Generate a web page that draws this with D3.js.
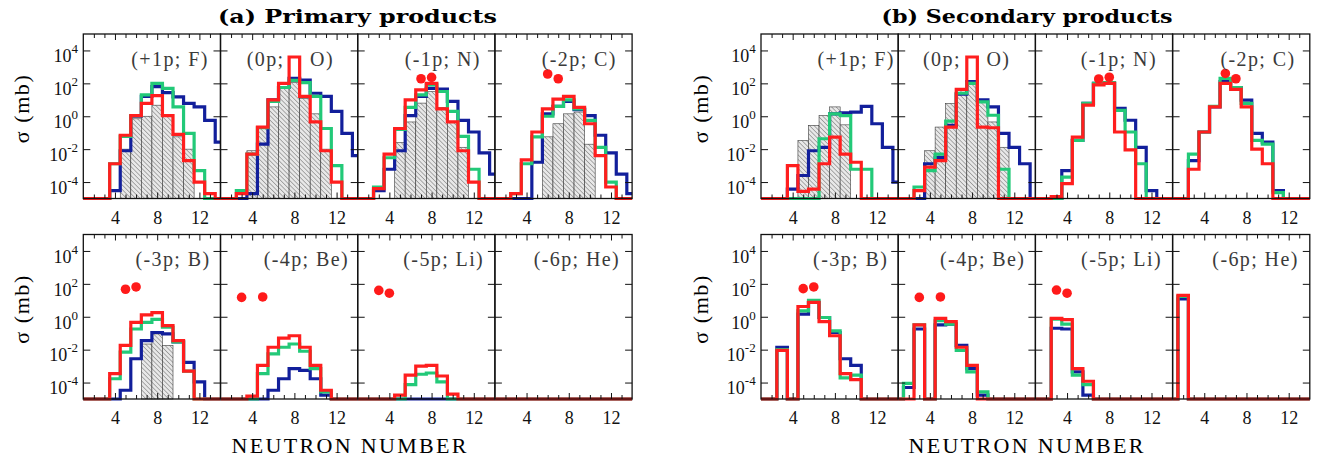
<!DOCTYPE html>
<html>
<head>
<meta charset="utf-8">
<script src="https://cdn.jsdelivr.net/npm/d3@7"></script>
<style>
  body { margin: 0; background: #fff; }
  svg { display: block; }
  text { font-family: "Liberation Serif", "Times New Roman", serif; }
</style>
</head>
<body>
<svg id="chart" width="1323" height="460"></svg>
<script>
// ---- data (cross sections in mb, index 0 <-> N = 1 ... index 13 <-> N = 14; 0 = below axis) ----
const neutronNumbers = [1, 2, 3, 4, 5, 6, 7, 8, 9, 10, 11, 12, 13, 14];
const panelLabels = ["(+1p; F)", "(0p;    O)", "(-1p; N)", "(-2p; C)",
                     "(-3p; B)", "(-4p; Be)", "(-5p; Li)", "(-6p; He)"];
const groupTitles = ["(a) Primary products", "(b) Secondary products"];
const xAxisTitle = "NEUTRON NUMBER";
const yAxisTitle = "σ (mb)";
const yTickValues = [1e-4, 1e-2, 1e0, 1e2, 1e4];
const yTickExponents = ["-4", "-2", "0", "2", "4"];
const xTickValues = [4, 8, 12];
const xMinorTicks = [2, 3, 5, 6, 7, 9, 10, 11, 13];

// primary products
const primaryGray = [
  [0, 0, 0, 0, 1e-2, 0.7, 1, 4.7, 1, 5.6e-2, 1e-2, 0, 0, 0],
  [0, 0, 0, 8e-3, 0.18, 3.7, 50, 110, 12, 1.4, 1e-2, 0, 0, 0],
  [0, 0, 0, 0, 2.5e-2, 0.45, 6.3, 32, 3.5, 0.45, 1.3e-2, 0, 0, 0],
  [0, 0, 0, 0, 0, 5.6e-2, 0.35, 1.4, 1.8, 2e-2, 0, 0, 0, 0],
  [0, 0, 0, 0, 0, 0, 2.2e-2, 9e-2, 1.8e-2, 0, 0, 0, 0, 0],
  [0, 0, 0, 0, 0, 0, 0, 0, 0, 0, 0, 0, 0, 0],
  [0, 0, 0, 0, 0, 0, 0, 0, 0, 0, 0, 0, 0, 0],
  [0, 0, 0, 0, 0, 0, 0, 0, 0, 0, 0, 0, 0, 0]
];
const primaryBlue = [
  [0, 0, 0, 3e-5, 8e-3, 1, 16, 63, 27, 15, 6, 3.7, 0.56, 2.7e-2],
  [0, 0, 0, 2e-5, 2e-2, 10, 56, 200, 160, 25, 16, 2, 9e-2, 4e-3],
  [0, 0, 3e-5, 6e-4, 8e-3, 1.1, 16, 50, 45, 8, 0.56, 0.11, 6e-3, 3e-4],
  [0, 0, 0, 0, 1.6e-3, 1.4, 4, 8, 2.5, 1.1, 7e-2, 6e-3, 3e-4, 2e-5],
  [0, 0, 0, 0, 3.4e-5, 2.8e-3, 3.5e-2, 0.11, 9e-2, 3e-2, 1.7e-3, 1.1e-4, 0, 0],
  [0, 0, 0, 0, 0, 3.4e-5, 1.7e-4, 7e-4, 5.5e-4, 1.7e-4, 1.7e-5, 0, 0, 0],
  [0, 0, 0, 0, 0, 0, 0, 0, 0, 0, 0, 0, 0, 0],
  [0, 0, 0, 0, 0, 0, 0, 0, 0, 0, 0, 0, 0, 0]
];
const primaryGreen = [
  [0, 0, 0, 1.3e-3, 6e-2, 1.1, 20, 100, 50, 3.7, 9e-2, 5e-4, 0, 0],
  [0, 0, 3e-5, 5e-3, 0.2, 8, 56, 150, 112, 16, 0.18, 1e-3, 0, 0],
  [0, 0, 5e-5, 3e-3, 0.16, 3.5, 20, 80, 32, 2, 6e-2, 6e-4, 0, 0],
  [0, 0, 2e-5, 1.3e-3, 5.6e-2, 1, 4, 10, 2.8, 0.56, 1.3e-2, 1e-4, 0, 0],
  [0, 0, 0, 1.7e-4, 7e-3, 0.18, 0.45, 0.7, 0.23, 3e-2, 5e-4, 0, 0, 0],
  [0, 0, 0, 0, 3.5e-4, 5.6e-3, 1.4e-2, 2.2e-2, 8e-3, 7e-4, 2.7e-5, 0, 0, 0],
  [0, 0, 0, 0, 0, 7.5e-5, 3.2e-4, 3.8e-4, 1.1e-4, 0, 0, 0, 0, 0],
  [0, 0, 0, 0, 0, 0, 0, 0, 0, 0, 0, 0, 0, 0]
];
const primaryRed = [
  [0, 0, 0, 1.3e-3, 7e-2, 1.1, 6, 18, 1.1, 8e-2, 2e-3, 1e-4, 2e-5, 0],
  [0, 0, 2e-5, 5e-3, 0.22, 10, 100, 4000, 16, 0.45, 8e-3, 1e-4, 0, 0],
  [0, 0, 4e-5, 5e-3, 0.18, 10, 40, 100, 2.8, 0.45, 8e-3, 1e-4, 0, 0],
  [0, 0, 2e-5, 2.2e-3, 0.11, 2.8, 11, 16, 3.5, 0.35, 4e-3, 5e-5, 0, 0],
  [0, 0, 0, 3.5e-4, 1.8e-2, 0.45, 1.3, 1.8, 0.29, 3.5e-2, 5e-4, 0, 0, 0],
  [0, 0, 0, 1.5e-5, 1.1e-3, 1.4e-2, 5e-2, 7e-2, 1.4e-2, 1.1e-3, 3.4e-5, 0, 0, 0],
  [0, 0, 0, 0, 1.7e-5, 2.8e-4, 1e-3, 1.1e-3, 2.5e-4, 2e-5, 0, 0, 0, 0],
  [0, 0, 0, 0, 0, 0, 0, 0, 0, 0, 0, 0, 0, 0]
];
const primaryDots = [
  [], [], [[7, 190], [8, 230]], [[6, 370], [7, 190]],
  [[5, 47], [6, 65]], [[3, 15], [5, 16]], [[3, 40], [4, 27]], []
];

// secondary products
const secondaryGray = [
  [0, 0, 0, 0, 3.4e-2, 0.28, 1.1, 3.7, 0.3, 0, 0, 0, 0, 0],
  [0, 0, 0, 8e-3, 0.22, 6, 50, 110, 7.5, 0.45, 1.3e-2, 0, 0, 0],
  [0, 0, 0, 0, 0, 0, 0, 0, 0, 0, 0, 0, 0, 0],
  [0, 0, 0, 0, 0, 0, 0, 0, 0, 0, 0, 0, 0, 0],
  [0, 0, 0, 0, 0, 0, 0, 0, 0, 0, 0, 0, 0, 0],
  [0, 0, 0, 0, 0, 0, 0, 0, 0, 0, 0, 0, 0, 0],
  [0, 0, 0, 0, 0, 0, 0, 0, 0, 0, 0, 0, 0, 0],
  [0, 0, 0, 0, 0, 0, 0, 0, 0, 0, 0, 0, 0, 0]
];
const secondaryBlue = [
  [0, 0, 0, 3.7e-5, 2.5e-4, 8e-3, 1.3e-2, 1.4, 1.6, 1.8, 4, 0.35, 1.3e-2, 1e-4],
  [0, 0, 0, 1.3e-3, 3.2e-3, 0.28, 22, 126, 10, 3.7, 9e-2, 1.3e-2, 1.3e-3, 0],
  [0, 0, 0, 5e-4, 3.4e-2, 6, 100, 100, 3, 0.57, 1.3e-2, 3e-5, 0, 0],
  [0, 0, 2e-3, 0.11, 3.7, 126, 56, 9.5, 9e-2, 2.7e-2, 3e-5, 0, 0, 0],
  [0, 0, 1.4e-2, 0, 1.45, 7.4, 0.9, 0.11, 2.8e-3, 1.1e-3, 0, 0, 0, 0],
  [0, 5e-5, 0.18, 0, 0.32, 0.36, 1.8e-2, 7e-4, 1.7e-5, 0, 0, 0, 0, 0],
  [0, 0, 0.2, 0.18, 4.4e-4, 1.7e-5, 0, 0, 0, 0, 0, 0, 0, 0],
  [0, 12, 0, 0, 0, 0, 0, 0, 0, 0, 0, 0, 0, 0]
];
const secondaryGreen = [
  [0, 0, 0, 0, 0, 0, 4.3e-2, 1.4, 1.1, 6e-4, 6e-4, 0, 0, 0],
  [0, 0, 5e-5, 5e-4, 5e-3, 0.5, 25, 100, 7.5, 1.15, 6e-4, 0, 0, 0],
  [0, 0, 0, 2e-4, 3.4e-2, 6, 100, 110, 2.3, 0.11, 1.3e-3, 0, 0, 0],
  [0, 0, 5e-3, 0.11, 4, 200, 56, 6, 3.4e-2, 2e-2, 2.3e-5, 0, 0, 0],
  [0, 0, 1e-2, 0, 2.3, 10, 0.9, 0.14, 1.9e-4, 2.8e-4, 0, 0, 0, 0],
  [0, 9e-5, 0.32, 0, 0.57, 0.36, 9e-3, 4.4e-4, 2.7e-5, 0, 0, 0, 0, 0],
  [0, 0, 0.72, 0.36, 2.8e-4, 7.5e-5, 0, 0, 0, 0, 0, 0, 0, 0],
  [0, 17, 0, 0, 0, 0, 0, 0, 0, 0, 0, 0, 0, 0]
];
const secondaryRed = [
  [0, 0, 0, 1e-3, 2.7e-5, 3.7e-5, 1.3e-3, 5.4e-2, 5e-3, 1.6e-3, 0, 0, 0, 0],
  [0, 0, 3e-5, 8e-4, 2e-3, 0.22, 43, 4000, 0.22, 0.2, 0, 0, 0, 0],
  [0, 0, 1.3e-5, 8e-5, 5.4e-2, 4.7, 80, 100, 0.11, 9e-3, 0, 0, 0, 0],
  [0, 0, 6e-4, 0.11, 3.7, 100, 43, 3.7, 1e-2, 1.3e-3, 0, 0, 0, 0],
  [0, 0, 9e-3, 0, 4.2, 7.4, 0.5, 7e-2, 3.5e-4, 1.5e-4, 0, 0, 0, 0],
  [0, 0, 0.32, 0, 0.8, 0.5, 1.4e-2, 1.1e-3, 0, 0, 0, 0, 0, 0],
  [0, 0, 0.8, 0.66, 7e-4, 1.2e-4, 0, 0, 0, 0, 0, 0, 0, 0],
  [0, 20, 0, 0, 0, 0, 0, 0, 0, 0, 0, 0, 0, 0]
];
const secondaryDots = [
  [], [], [[7, 185], [8, 235]], [[6, 400], [7, 190]],
  [[5, 51], [6, 65]], [[3, 15], [5, 16]], [[3, 42], [4, 27]], []
];

// ---- layout ----
const panelW = 137.2;
const rowTop = [34, 234.5];
const rowH = 164.5;
const yMin = 1e-5, yMax = 1e5;
const colors = { blue: "#121f9b", green: "#22c978", red: "#ff1e1e", dot: "#ff1a1a" };
const serif = "'Liberation Serif', 'Times New Roman', serif";

const groups = [
  { x0: 83.3, title: groupTitles[0], titleX: 357.5, titleW: 279, xTitleX: 349, yTitleX: 29,
    gray: primaryGray, blue: primaryBlue, green: primaryGreen, red: primaryRed, dots: primaryDots,
    labelInset: [11.7, 23.7, 14, 15.3, 10, 8.7, 10.7, 12] },
  { x0: 761, title: groupTitles[1], titleX: 1027, titleW: 291, xTitleX: 1026, yTitleX: 708,
    gray: secondaryGray, blue: secondaryBlue, green: secondaryGreen, red: secondaryRed, dots: secondaryDots,
    labelInset: [3.3, 25, 15.6, 14.3, 10, 10, 10.6, 11] }
];

const svg = d3.select("#chart");
const defs = svg.append("defs");
const hatch = defs.append("pattern")
  .attr("id", "hatch").attr("patternUnits", "userSpaceOnUse")
  .attr("width", 3.2).attr("height", 3.2)
  .attr("patternTransform", "rotate(-45)");
hatch.append("rect").attr("width", 3.2).attr("height", 3.2).attr("fill", "#e8e8e8");
hatch.append("line").attr("x1", 0).attr("y1", 0).attr("x2", 0).attr("y2", 3.2)
  .attr("stroke", "#747474").attr("stroke-width", 1.1);

// step outline: each bin N spans [N-0.5, N+0.5]
function binPoints(values) {
  const pts = [];
  values.forEach((v, i) => {
    const n = neutronNumbers[i];
    pts.push([n - 0.5, v], [n + 0.5, v]);
  });
  return pts;
}

groups.forEach((g, gi) => {
  // group title
  svg.append("text")
    .attr("x", g.titleX).attr("y", 23)
    .attr("text-anchor", "middle")
    .style("font-family", "'DejaVu Serif', serif")
    .style("font-weight", "bold").style("font-size", "19px")
    .attr("textLength", g.titleW).attr("lengthAdjust", "spacingAndGlyphs")
    .text(g.title);

  // x-axis title
  svg.append("text")
    .attr("x", g.xTitleX).attr("y", 453)
    .attr("text-anchor", "middle").style("font-size", "22px")
    .style("font-family", serif)
    .attr("textLength", 235).attr("lengthAdjust", "spacing")
    .text(xAxisTitle);

  for (let p = 0; p < 8; p++) {
    const row = Math.floor(p / 4), col = p % 4;
    const px0 = g.x0 + col * panelW, px1 = px0 + panelW;
    const top = rowTop[row], bottom = top + rowH;
    const x = d3.scaleLinear().domain([1, 14]).range([px0, px1]);
    const y = d3.scaleLog().domain([yMin, yMax]).range([bottom, top]);
    const yc = v => y(Math.max(v, yMin));

    const clipId = `clip-${gi}-${p}`;
    defs.append("clipPath").attr("id", clipId)
      .append("rect").attr("x", px0).attr("y", top).attr("width", panelW).attr("height", rowH + 3);

    const panel = svg.append("g");
    const plot = panel.append("g").attr("clip-path", `url(#${clipId})`);

    // hatched reference histogram
    plot.selectAll("rect.bar")
      .data(g.gray[p].map((v, i) => [neutronNumbers[i], v]).filter(d => d[1] > 0))
      .join("rect").attr("class", "bar")
      .attr("x", d => x(d[0] - 0.5))
      .attr("width", d => x(d[0] + 0.5) - x(d[0] - 0.5))
      .attr("y", d => yc(d[1]))
      .attr("height", d => bottom - yc(d[1]))
      .attr("fill", "url(#hatch)")
      .attr("stroke", "#3a3a3a").attr("stroke-width", 0.6);

    // model histograms
    const line = d3.line().x(d => x(d[0])).y(d => yc(d[1]));
    [["blue", g.blue], ["green", g.green], ["red", g.red]].forEach(([c, arr]) => {
      plot.append("path")
        .attr("d", line(binPoints(arr[p])))
        .attr("fill", "none")
        .attr("stroke", colors[c]).attr("stroke-width", 3.2)
        .attr("stroke-linejoin", "miter");
    });

    // measured points
    plot.selectAll("circle")
      .data(g.dots[p])
      .join("circle")
      .attr("cx", d => x(d[0])).attr("cy", d => y(d[1]))
      .attr("r", 4.8).attr("fill", colors.dot);

    // frame
    panel.append("rect")
      .attr("x", px0).attr("y", top).attr("width", panelW).attr("height", rowH)
      .attr("fill", "none").attr("stroke", "#111").attr("stroke-width", 1.3);

    // inward ticks
    const axisStyle = sel => { sel.select(".domain").remove(); sel.selectAll("line").attr("stroke", "#111"); };
    panel.append("g").attr("transform", `translate(0,${bottom})`)
      .call(d3.axisBottom(x).tickValues(xTickValues).tickSize(-6).tickPadding(12.7))
      .call(axisStyle)
      .call(s => s.selectAll("text").style("font-size", "18px").attr("fill", "#111")
        .style("font-family", serif));
    panel.append("g").attr("transform", `translate(0,${bottom})`)
      .call(d3.axisBottom(x).tickValues(xMinorTicks).tickSize(-4).tickFormat(""))
      .call(axisStyle);
    panel.append("g").attr("transform", `translate(0,${top})`)
      .call(d3.axisTop(x).tickValues(xTickValues).tickSize(-6).tickFormat(""))
      .call(axisStyle);
    panel.append("g").attr("transform", `translate(0,${top})`)
      .call(d3.axisTop(x).tickValues(xMinorTicks).tickSize(-4).tickFormat(""))
      .call(axisStyle);
    panel.append("g").attr("transform", `translate(${px0},0)`)
      .call(d3.axisLeft(y).tickValues(yTickValues).tickSize(-7).tickFormat(""))
      .call(axisStyle);
    panel.append("g").attr("transform", `translate(${px1},0)`)
      .call(d3.axisRight(y).tickValues(yTickValues).tickSize(-7).tickFormat(""))
      .call(axisStyle);

    // panel label
    panel.append("text")
      .attr("x", px1 - g.labelInset[p]).attr("y", top + 31.5)
      .attr("text-anchor", "end")
      .style("font-family", serif)
      .style("font-size", "20px").style("letter-spacing", "1.4px")
      .style("white-space", "pre").attr("fill", "#3a3a3a")
      .text(panelLabels[p]);

    // y tick labels and title on the first column
    if (col === 0) {
      yTickValues.forEach((v, i) => {
        const t = panel.append("text")
          .attr("x", px0 - 5.3).attr("y", y(v) + 11.8)
          .attr("text-anchor", "end").attr("fill", "#111")
          .style("font-family", serif)
          .style("font-size", "18px");
        t.append("tspan").text("10");
        t.append("tspan").attr("dy", -9).style("font-size", "13px").text(yTickExponents[i]);
      });
      svg.append("text")
        .attr("transform", `translate(${g.yTitleX},${(top + bottom) / 2 - 7}) rotate(-90)`)
        .attr("text-anchor", "middle").style("font-size", "22px")
        .style("font-family", serif)
        .attr("textLength", 68).attr("lengthAdjust", "spacing")
        .text(yAxisTitle);
    }
  }
});
</script>
</body>
</html>
